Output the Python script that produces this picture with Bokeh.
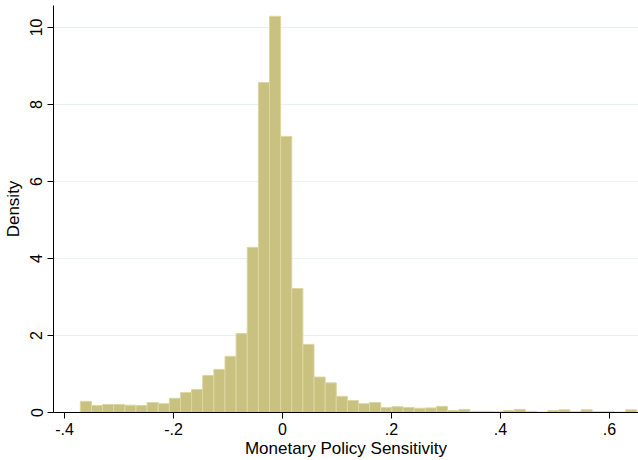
import numpy as np
from bokeh.plotting import figure
from bokeh.models import FixedTicker, Range1d
from bokeh.embed import file_html
from bokeh.resources import INLINE

# Histogram of monetary policy sensitivity (50 equal-width bins)
data_min = -0.371
data_max = 0.650
n_bins = 50
density = [
    0.29, 0.18, 0.21, 0.21, 0.19, 0.18, 0.26, 0.23, 0.37, 0.52,
    0.60, 0.96, 1.12, 1.46, 2.05, 4.29, 8.57, 10.29, 7.17, 3.22,
    1.77, 0.92, 0.77, 0.42, 0.31, 0.23, 0.26, 0.13, 0.15, 0.13,
    0.11, 0.12, 0.16, 0.05, 0.08, 0.03, 0.03, 0.02, 0.05, 0.08,
    0.03, 0.01, 0.05, 0.07, 0.02, 0.07, 0.02, 0.02, 0.01, 0.07,
]
x_ticks = [-0.4, -0.2, 0.0, 0.2, 0.4, 0.6]
x_tick_labels = ["-.4", "-.2", "0", ".2", ".4", ".6"]
y_ticks = [0, 2, 4, 6, 8, 10]
x_title = "Monetary Policy Sensitivity"
y_title = "Density"

edges = np.linspace(data_min, data_max, n_bins + 1)
lefts = edges[:-1]
rights = edges[1:]

FONT = "Liberation Sans"

p = figure(
    width=638, height=460,
    x_range=Range1d(-0.4202, 0.6532), y_range=Range1d(0, 10.57),
    output_backend="svg", toolbar_location=None,
    min_border_top=5, min_border_right=0, min_border_left=0, min_border_bottom=0,
)
p.background_fill_color = "white"
p.border_fill_color = "white"
p.outline_line_color = None

p.quad(left=lefts, right=rights, bottom=0, top=density,
       fill_color="#c9c180", line_color="#dcd6a2", line_width=1)

# axes
p.xaxis.ticker = FixedTicker(ticks=x_ticks)
p.xaxis.major_label_overrides = {t: l for t, l in zip(x_ticks, x_tick_labels)}
p.yaxis.ticker = FixedTicker(ticks=y_ticks)
p.yaxis.major_label_orientation = "vertical"
p.xaxis.axis_label = x_title
p.yaxis.axis_label = y_title

for ax in (p.xaxis, p.yaxis):
    ax.axis_line_color = "#000000"
    ax.axis_line_width = 1
    ax.major_tick_line_color = "#000000"
    ax.major_tick_in = 0
    ax.minor_tick_line_color = None
    ax.major_label_text_font = FONT
    ax.major_label_text_font_size = "16px"
    ax.major_label_text_color = "#000000"
    ax.axis_label_text_font = FONT
    ax.axis_label_text_font_size = "17px"
    ax.axis_label_text_font_style = "normal"
    ax.axis_label_text_color = "#000000"

p.xaxis.major_tick_out = 6
p.xaxis.major_label_standoff = 4
p.xaxis.axis_label_standoff = 1
p.yaxis.major_tick_out = 6
p.yaxis.major_label_standoff = 5
p.yaxis.axis_label_standoff = 5

p.xgrid.visible = False
p.ygrid.ticker = FixedTicker(ticks=y_ticks)
p.ygrid.grid_line_color = "#e8f0f2"
p.ygrid.grid_line_width = 1

open("out.html", "w").write(file_html(p, INLINE))
